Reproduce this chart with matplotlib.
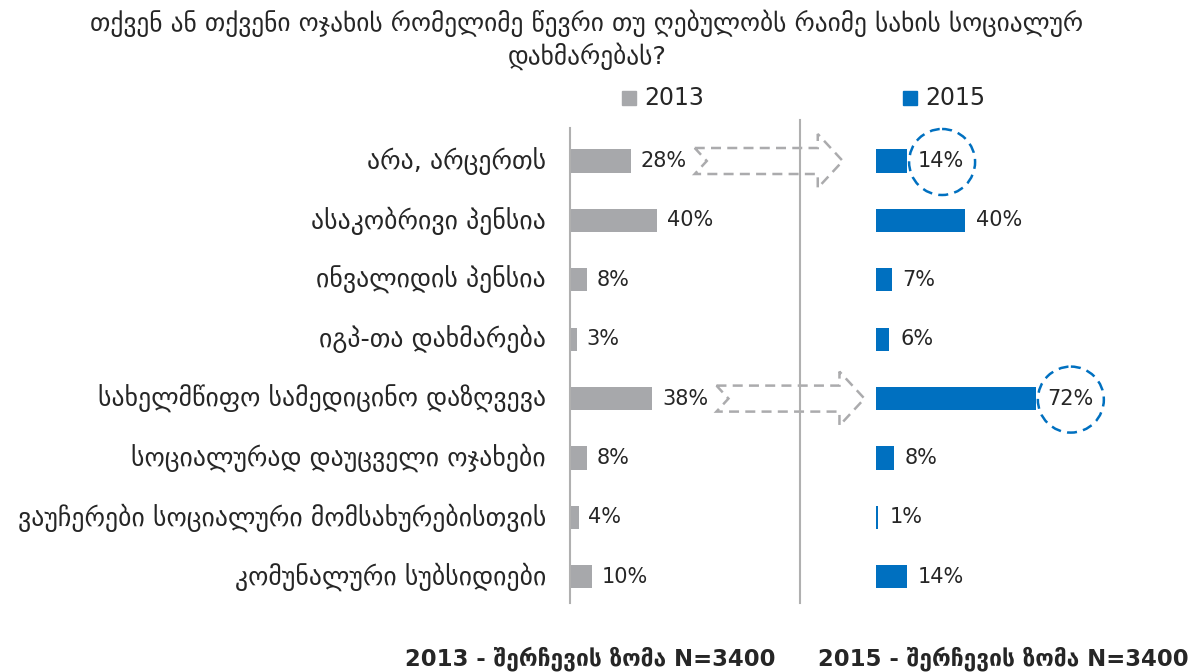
import numpy as np
import matplotlib

matplotlib.use("Agg")
import matplotlib.pyplot as plt
from matplotlib.patches import Polygon, Ellipse

# ── data ─────────────────────────────────────────────────────────────────────
categories = [
    "არა, არცერთს",
    "ასაკობრივი პენსია",
    "ინვალიდის პენსია",
    "იგპ-თა დახმარება",
    "სახელმწიფო სამედიცინო დაზღვევა",
    "სოციალურად დაუცველი ოჯახები",
    "ვაუჩერები სოციალური მომსახურებისთვის",
    "კომუნალური სუბსიდიები",
]
vals_2013 = [28, 40, 8, 3, 38, 8, 4, 10]
vals_2015 = [14, 40, 7, 6, 72, 8, 1, 14]
highlight = [0, 4]  # rows with arrow + circle

title = "თქვენ ან თქვენი ოჯახის რომელიმე წევრი თუ ღებულობს რაიმე სახის სოციალურ\nდახმარებას?"
note_2013 = "2013 - შერჩევის ზომა N=3400"
note_2015 = "2015 - შერჩევის ზომა N=3400"

GRAY = "#A7A8AB"
BLUE = "#0070C0"
TXT = "#262626"

# ── layout (pixels) ──────────────────────────────────────────────────────────
W, H = 1199, 672
ROW0, STEP = 161, 59.4
TOP, BOT = 128, 603
L0, L1 = 570, 800
R0, R1 = 876, 1106
XMAX_L, XMAX_R = 106, 103.6

fig = plt.figure(figsize=(W / 100, H / 100), dpi=100)
plt.rcParams["font.family"] = ["DejaVu Sans"]

ylo = (BOT - ROW0) / STEP
yhi = -(ROW0 - TOP) / STEP

axL = fig.add_axes([L0 / W, 1 - BOT / H, (L1 - L0) / W, (BOT - TOP) / H])
axR = fig.add_axes([R0 / W, 1 - BOT / H, (R1 - R0) / W, (BOT - TOP) / H])

y = np.arange(len(categories))
axL.barh(y, vals_2013, height=0.39, color=GRAY)
axR.barh(y, vals_2015, height=0.39, color=BLUE)
axL.set_xlim(0, XMAX_L)
axR.set_xlim(0, XMAX_R)
for ax in (axL, axR):
    ax.set_ylim(ylo, yhi)
    ax.set_xticks([])
    ax.set_yticks([])
    for s in ax.spines.values():
        s.set_visible(False)
    ax.patch.set_alpha(0)
axL.spines["left"].set_visible(True)
axL.spines["left"].set_color("#B0B0B0")
axL.spines["left"].set_linewidth(1.5)

for i, v in enumerate(vals_2013):
    axL.text(v + 4.5, i, f"{v}%", va="center", ha="left", fontsize=15, color=TXT)
for i, v in enumerate(vals_2015):
    axR.text(v + 5, i, f"{v}%", va="center", ha="left", fontsize=15, color=TXT)
for i, c in enumerate(categories):
    axL.text(-11, i, c, va="center", ha="right", fontsize=18.5, color=TXT)

# overlay in pixel coordinates for decorations
ov = fig.add_axes([0, 0, 1, 1])
ov.set_xlim(0, W)
ov.set_ylim(H, 0)
ov.axis("off")
ov.patch.set_alpha(0)

# divider line
ov.plot([800, 800], [120, BOT], color="#B0B0B0", lw=1.5)

# legend
ov.add_patch(plt.Rectangle((622, 91), 14, 14, color=GRAY))
ov.text(644, 98, "2013", fontsize=17, color=TXT, va="center", ha="left")
ov.add_patch(plt.Rectangle((903, 91), 14, 14, color=BLUE))
ov.text(925, 98, "2015", fontsize=17, color=TXT, va="center", ha="left")

# title & footnotes
ov.text(587, 40, title, fontsize=18.3, color=TXT, ha="center", va="center",
        linespacing=1.25)
ov.text(405, 659, note_2013, fontsize=16.4, fontweight="bold", color=TXT,
        ha="left", va="center")
ov.text(818, 659, note_2015, fontsize=16.4, fontweight="bold", color=TXT,
        ha="left", va="center")

# dashed block arrows and dashed circles for highlighted rows
sL = (L1 - L0) / XMAX_L
sR = (R1 - R0) / XMAX_R
for i in highlight:
    cy = ROW0 + i * STEP
    tail = L0 + vals_2013[i] * sL + 64
    notch, hs, tip = tail + 12, tail + 123, tail + 148
    bh, hh = 13, 27
    pts = [(tail, cy - bh), (hs, cy - bh), (hs, cy - hh), (tip, cy),
           (hs, cy + hh), (hs, cy + bh), (tail, cy + bh), (notch, cy)]
    ov.add_patch(Polygon(pts, closed=True, fill=False, edgecolor="#ABABAD",
                         lw=1.8, ls=(0, (4, 2.5))))
    cx = R0 + vals_2015[i] * sR + 35
    ov.add_patch(Ellipse((cx, cy + 1), 66, 66, fill=False, edgecolor=BLUE,
                         lw=1.8, ls=(0, (4, 2.5))))

fig.savefig("out.png", dpi=100, facecolor="white")
